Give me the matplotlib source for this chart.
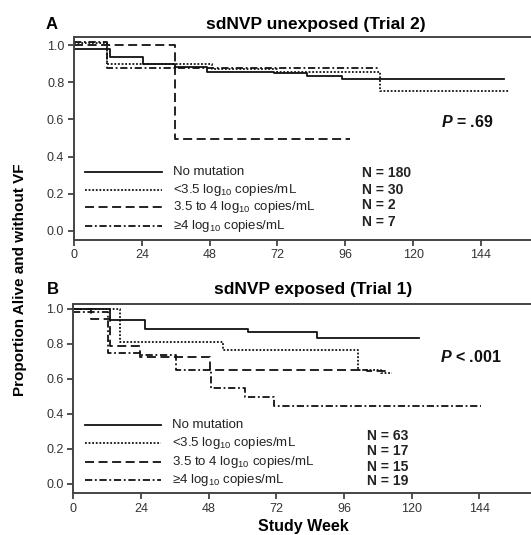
import numpy as np
import matplotlib
matplotlib.use("Agg")
import matplotlib.pyplot as plt

plt.rcParams['font.family'] = ['Liberation Sans', 'DejaVu Sans']
plt.rcParams['mathtext.fontset'] = 'custom'
plt.rcParams['mathtext.rm'] = 'Liberation Sans'
plt.rcParams['mathtext.it'] = 'Liberation Sans:italic:bold'
plt.rcParams['mathtext.bf'] = 'Liberation Sans:bold'

# Panel A - sdNVP unexposed (Trial 2)
a_none_t = [0, 12.7, 24.5, 35.8, 47, 70.6, 82.4, 94.8, 152]
a_none_s = [0.977, 0.937, 0.90, 0.884, 0.857, 0.848, 0.835, 0.815, 0.815]
a_low_t = [0, 11.6, 48.7, 72, 108.3, 154]
a_low_s = [1.01, 0.90, 0.87, 0.855, 0.755, 0.755]
a_mid_t = [0, 35.8, 97.8]
a_mid_s = [1.0, 0.497, 0.497]
a_high_t = [0, 11.6, 107.7]
a_high_s = [1.018, 0.875, 0.875]
a_n = ["N = 180", "N = 30", "N = 2", "N = 7"]
a_p = "$\\mathit{P}$ = .69"

# Panel B - sdNVP exposed (Trial 1)
b_none_t = [0, 12.8, 25.2, 62, 86.2, 122.6]
b_none_s = [1.0, 0.937, 0.886, 0.867, 0.832, 0.832]
b_low_t = [0, 16.4, 53, 101, 109, 112.8]
b_low_s = [1.0, 0.813, 0.763, 0.651, 0.635, 0.635]
b_mid_t = [0, 6.3, 12.8, 23.5, 48.3, 104, 111]
b_mid_s = [1.0, 0.94, 0.788, 0.727, 0.651, 0.643, 0.643]
b_high_t = [0, 12.2, 23.5, 36.5, 48.9, 60.8, 71.1, 144.4]
b_high_s = [0.985, 0.746, 0.737, 0.651, 0.546, 0.495, 0.445, 0.445]
b_n = ["N = 63", "N = 17", "N = 15", "N = 19"]
b_p = "$\\mathit{P}$ < .001"

groups = ["No mutation",
          "<3.5 log$_{10}$ copies/mL",
          "3.5 to 4 log$_{10}$ copies/mL",
          "\u22654 log$_{10}$ copies/mL"]
xticks = [0, 24, 48, 72, 96, 120, 144]
yticks = [0.0, 0.2, 0.4, 0.6, 0.8, 1.0]

styles = [dict(ls='-', lw=1.3),
          dict(ls=(0, (1, 1)), lw=1.3),
          dict(ls=(0, (5, 2.5)), lw=1.3),
          dict(ls=(0, (4, 1.5, 1, 1.5)), lw=1.3)]

fig = plt.figure(figsize=(5.31, 5.35), dpi=100)
ax_a = fig.add_axes([0.1394, 0.552, 0.894, 0.378])
ax_b = fig.add_axes([0.1384, 0.0785, 0.892, 0.3535])


def draw_panel(ax, curves, ylim, leg_y, n_labels, n_x, n_y, ptext, p_y):
    for (t, s), st in zip(curves, styles):
        ax.step(t, s, where='post', color='#111111', **st)
    ax.set_xlim(0, 168)
    ax.set_ylim(*ylim)
    ax.set_xticks(xticks)
    ax.set_yticks(yticks)
    ax.set_yticklabels(["%.1f" % v for v in yticks])
    ax.tick_params(direction='out', length=4, width=1.2, colors='#333333',
                   labelsize=9, pad=3)
    for sp in ['left', 'bottom', 'top']:
        ax.spines[sp].set_color('#444444')
        ax.spines[sp].set_linewidth(1.4)
    ax.spines['right'].set_visible(False)
    for st, lab, y, ny, n in zip(styles, groups, leg_y, n_y, n_labels):
        ax.plot([4, 31], [y, y], color='#111111', **st)
        ax.text(35, y, lab, fontsize=9.5, color='#222222', va='center')
        ax.text(n_x, ny, n, fontsize=10, fontweight='bold', color='#222222',
                va='center')
    ax.text(130, p_y, ptext, fontsize=11.5, fontweight='bold', color='#111111',
            va='center')


draw_panel(ax_a,
           [(a_none_t, a_none_s), (a_low_t, a_low_s),
            (a_mid_t, a_mid_s), (a_high_t, a_high_s)],
           (-0.047, 1.041), [0.319, 0.220, 0.127, 0.028],
           a_n, 102, [0.313, 0.220, 0.140, 0.050], a_p, 0.588)
draw_panel(ax_b,
           [(b_none_t, b_none_s), (b_low_t, b_low_s),
            (b_mid_t, b_mid_s), (b_high_t, b_high_s)],
           (-0.053, 1.029), [0.336, 0.231, 0.126, 0.021],
           b_n, 104, [0.273, 0.189, 0.097, 0.017], b_p, 0.727)

fig.text(0.086, 0.954, "A", fontsize=12, fontweight='bold', va='center')
fig.text(0.595, 0.954, "sdNVP unexposed (Trial 2)", fontsize=12.5,
         fontweight='bold', ha='center', va='center')
fig.text(0.088, 0.458, "B", fontsize=12, fontweight='bold', va='center')
fig.text(0.590, 0.458, "sdNVP exposed (Trial 1)", fontsize=12.5,
         fontweight='bold', ha='center', va='center')
fig.text(0.038, 0.477, "Proportion Alive and without VF", fontsize=11,
         fontweight='bold', rotation=90, ha='center', va='center')
fig.text(0.572, 0.016, "Study Week", fontsize=11.5, fontweight='bold',
         ha='center', va='center')

fig.savefig("out.png", dpi=100)
